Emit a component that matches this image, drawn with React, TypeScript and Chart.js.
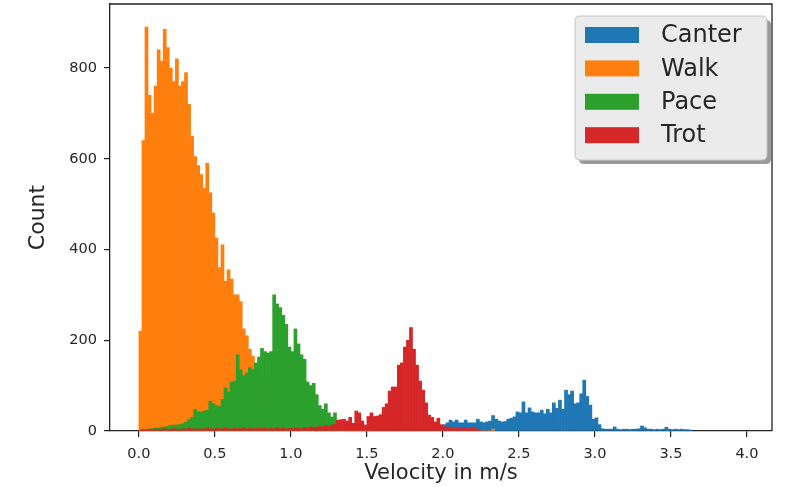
import React, { useEffect, useRef } from "react";
import { Chart, registerables } from "chart.js";

Chart.register(...registerables);

// ---------- data ----------
const BIN_WIDTH = 0.02;
const SERIES_NAMES = ["Canter", "Walk", "Pace", "Trot"];
const SERIES_COLORS = ["#1f77b4", "#ff7f0e", "#2ca02c", "#d62728"];

const canterStart = 1.96;
const canterCounts = [
  3, 8, 14, 18, 24, 20, 24, 18, 18, 24,
  18, 18, 18, 26, 20, 18, 20, 22, 34, 26,
  22, 20, 21, 26, 28, 31, 42, 40, 64, 40,
  51, 42, 40, 40, 46, 38, 48, 40, 62, 50,
  68, 48, 90, 80, 88, 60, 62, 82, 112, 76,
  57, 26, 29, 14, 5, 4, 4, 4, 9, 4,
  3, 4, 4, 3, 4, 4, 5, 11, 7, 4,
  4, 3, 4, 3, 4, 8, 4, 3, 4, 3,
  4, 3, 3, 2,
];

const walkStart = 0.0;
const walkCounts = [
  220, 640, 890, 740, 700, 760, 840, 815, 885, 845,
  800, 770, 820, 760, 770, 790, 720, 650, 605, 585,
  565, 535, 590, 525, 480, 425, 360, 410, 330, 355,
  335, 300, 300, 285, 225, 210, 180, 165, 140, 125,
  115, 105, 95, 85, 75, 68, 60, 54, 48, 42,
  38, 34, 30, 26, 23, 20, 18, 16, 14, 12,
  10, 9, 8, 7, 6, 5, 4, 3, 3, 2,
  2, 2, 1, 1, 1, 1, 1, 0, 0, 0,
  0, 0, 0, 0, 0, 0, 0, 0, 0, 0,
  0, 0, 0, 0, 0, 0, 0, 0, 0, 0,
  0, 0, 0, 0, 0, 0, 0, 0, 0, 0,
  0, 0, 0, 0, 0, 0, 4,
];

const paceStart = 0.0;
const paceCounts = [
  0, 2, 3, 4, 5, 7, 7, 8, 9, 10,
  12, 13, 13, 14, 16, 20, 25, 30, 48, 42,
  42, 44, 46, 66, 60, 56, 54, 70, 95, 86,
  108, 110, 168, 135, 122, 128, 140, 135, 150, 163,
  182, 175, 172, 175, 300, 280, 272, 255, 235, 185,
  175, 225, 192, 168, 158, 108, 100, 105, 80, 56,
  48, 60, 40, 31, 40, 19, 6,
];

const trotStart = 0.0;
const trotCounts = [
  2, 3, 3, 4, 3, 4, 3, 4, 5, 3,
  4, 5, 4, 3, 5, 4, 6, 4, 5, 4,
  5, 4, 6, 5, 4, 6, 5, 4, 6, 5,
  4, 6, 5, 5, 7, 4, 6, 5, 5, 6,
  5, 6, 4, 6, 5, 7, 5, 6, 4, 6,
  5, 7, 6, 5, 8, 6, 9, 7, 8, 10,
  9, 12, 10, 13, 15, 24, 25, 26, 22, 30,
  17, 44, 40, 22, 13, 32, 40, 32, 33, 36,
  52, 60, 88, 97, 97, 145, 150, 185, 200, 228,
  180, 145, 110, 90, 62, 35, 30, 20, 28, 14,
  9, 9, 7, 6, 6, 7, 5, 6, 5, 8, 6, 4,
];

const X_TICKS = [0, 0.5, 1.0, 1.5, 2.0, 2.5, 3.0, 3.5, 4.0];
const Y_TICKS = [0, 200, 400, 600, 800];
const X_MIN = -0.19;
const X_MAX = 4.165;
const Y_MAX = 941;
const X_LABEL = "Velocity in m/s";
const Y_LABEL = "Count";

// ---------- helpers ----------
const toPoints = (start: number, counts: number[]) =>
  counts.map((c, i) => ({
    x: Math.round((start + (i + 0.5) * BIN_WIDTH) * 10000) / 10000,
    y: c,
  }));

const SERIES_DATA = [
  toPoints(canterStart, canterCounts),
  toPoints(walkStart, walkCounts),
  toPoints(paceStart, paceCounts),
  toPoints(trotStart, trotCounts),
];

const FONT = "'DejaVu Sans', 'Liberation Sans', sans-serif";
const TEXT = "#262626";

const roundRect = (ctx: CanvasRenderingContext2D, x: number, y: number, w: number, h: number, r: number) => {
  ctx.beginPath();
  ctx.moveTo(x + r, y);
  ctx.lineTo(x + w - r, y);
  ctx.quadraticCurveTo(x + w, y, x + w, y + r);
  ctx.lineTo(x + w, y + h - r);
  ctx.quadraticCurveTo(x + w, y + h, x + w - r, y + h);
  ctx.lineTo(x + r, y + h);
  ctx.quadraticCurveTo(x, y + h, x, y + h - r);
  ctx.lineTo(x, y + r);
  ctx.quadraticCurveTo(x, y, x + r, y);
  ctx.closePath();
};

const framePlugin = {
  id: "frameAndLegend",
  afterDraw(chart: any) {
    const { ctx, chartArea } = chart;
    const { left, right, top, bottom } = chartArea;
    ctx.save();
    // top and right spines
    ctx.strokeStyle = "#222";
    ctx.lineWidth = 1.3;
    ctx.beginPath();
    ctx.moveTo(left, top);
    ctx.lineTo(right, top);
    ctx.lineTo(right, bottom);
    ctx.stroke();

    // legend
    const bx = right - 197;
    const by = top + 12;
    const bw = 192;
    const bh = 144;
    ctx.fillStyle = "#9a9a9a";
    roundRect(ctx, bx + 4, by + 4, bw, bh, 5);
    ctx.fill();
    ctx.fillStyle = "#ebebeb";
    roundRect(ctx, bx, by, bw, bh, 5);
    ctx.fill();
    ctx.strokeStyle = "#c4c4c4";
    ctx.lineWidth = 1;
    ctx.stroke();

    ctx.font = `24px ${FONT}`;
    ctx.textBaseline = "middle";
    ctx.textAlign = "left";
    SERIES_NAMES.forEach((name, i) => {
      const cy = by + 19 + i * 33.4;
      ctx.fillStyle = SERIES_COLORS[i];
      ctx.fillRect(bx + 10, cy - 8, 54, 16);
      ctx.fillStyle = TEXT;
      ctx.fillText(name, bx + 86, cy + 1);
    });
    ctx.restore();
  },
};

export default function App() {
  const canvasRef = useRef<HTMLCanvasElement | null>(null);

  useEffect(() => {
    document.body.style.margin = "0";
    const canvas = canvasRef.current;
    if (!canvas) return;
    const chart = new Chart(canvas, {
      type: "bar",
      data: {
        datasets: SERIES_NAMES.map((name, i) => ({
          label: name,
          data: SERIES_DATA[i],
          backgroundColor: SERIES_COLORS[i],
          borderWidth: 0,
          grouped: false,
          barPercentage: 1,
          categoryPercentage: 1,
          order: SERIES_NAMES.length - i,
        })),
      },
      options: {
        responsive: false,
        animation: false,
        devicePixelRatio: 1,
        layout: { padding: { top: 4, right: 20, left: 0, bottom: 0 } },
        plugins: {
          legend: { display: false },
          tooltip: { enabled: false },
          title: { display: false },
        },
        scales: {
          x: {
            type: "linear",
            min: X_MIN,
            max: X_MAX,
            offset: false,
            afterBuildTicks: (scale: any) => {
              scale.ticks = X_TICKS.map((v) => ({ value: v }));
            },
            afterFit: (scale: any) => {
              scale.height = 56;
              scale.paddingLeft = 0;
              scale.paddingRight = 0;
            },
            grid: {
              display: true,
              drawOnChartArea: false,
              drawTicks: true,
              tickLength: 6,
              color: "#222",
              lineWidth: 1.2,
              offset: false,
            },
            border: { display: true, color: "#222", width: 1.3 },
            ticks: {
              font: { family: FONT, size: 14.5 },
              color: TEXT,
              padding: 9,
              maxRotation: 0,
              autoSkip: false,
              callback: (v: any) => Number(v).toFixed(1),
            },
            title: {
              display: true,
              text: X_LABEL,
              font: { family: FONT, size: 21 },
              color: TEXT,
              padding: { top: 0, bottom: 1 },
            },
          },
          y: {
            type: "linear",
            min: 0,
            max: Y_MAX,
            afterBuildTicks: (scale: any) => {
              scale.ticks = Y_TICKS.map((v) => ({ value: v }));
            },
            afterFit: (scale: any) => {
              scale.width = 110;
              scale.paddingTop = 0;
              scale.paddingBottom = 0;
            },
            grid: {
              display: true,
              drawOnChartArea: false,
              drawTicks: true,
              tickLength: 6,
              color: "#222",
              lineWidth: 1.2,
            },
            border: { display: true, color: "#222", width: 1.3 },
            ticks: {
              font: { family: FONT, size: 14.5 },
              color: TEXT,
              padding: 7,
              autoSkip: false,
              callback: (v: any) => String(v),
            },
            title: {
              display: true,
              text: Y_LABEL,
              font: { family: FONT, size: 22 },
              color: TEXT,
              padding: { top: 25, bottom: 0 },
            },
          },
        },
      },
      plugins: [framePlugin],
    });
    return () => chart.destroy();
  }, []);

  return (
    <div style={{ position: "fixed", left: 0, top: 0, width: 792, height: 487, background: "#fff" }}>
      <canvas ref={canvasRef} width={792} height={487} style={{ width: 792, height: 487 }} />
    </div>
  );
}
